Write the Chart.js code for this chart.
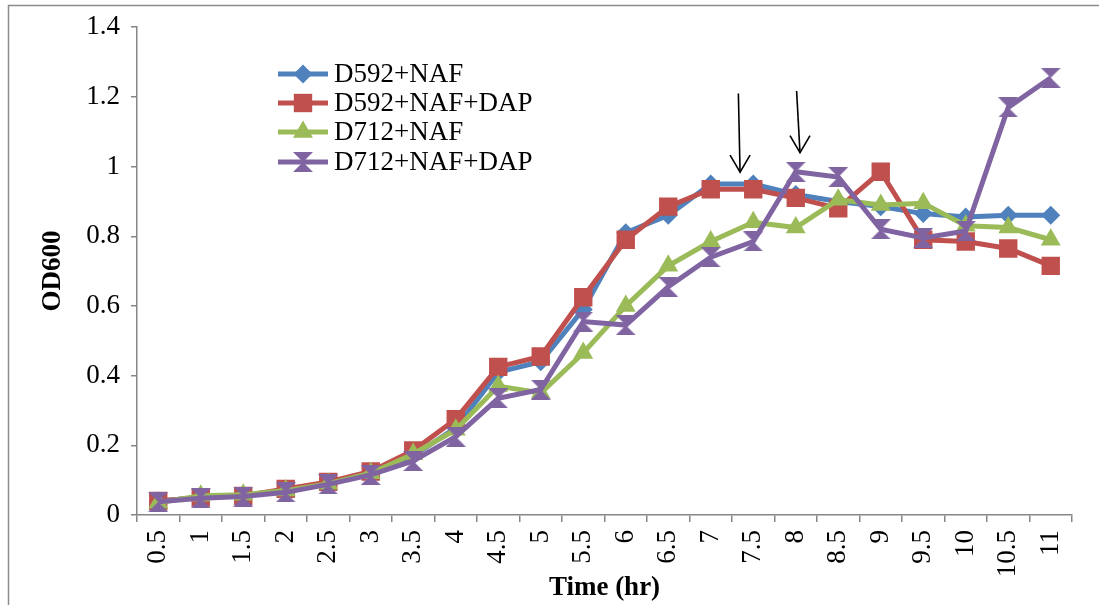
<!DOCTYPE html>
<html>
<head>
<meta charset="utf-8">
<script src="https://cdn.jsdelivr.net/npm/chart.js@4.4.1/dist/chart.umd.min.js"></script>
<style>
  html, body { margin: 0; padding: 0; background: #fff; }
  #wrap { width: 1099px; height: 605px; position: relative; }
</style>
</head>
<body>
<div id="wrap"><canvas id="growth"></canvas></div>
<script>
// time points (hr)
const timeLabels = ['0.5','1','1.5','2','2.5','3','3.5','4','4.5','5','5.5','6','6.5','7','7.5','8','8.5','9','9.5','10','10.5','11']
const yTickLabels = ['0','0.2','0.4','0.6','0.8','1','1.2','1.4']

const d592Naf    = [0.04, 0.05, 0.055, 0.07, 0.09, 0.12, 0.17, 0.25, 0.41, 0.44, 0.59, 0.81, 0.86, 0.95, 0.95, 0.92, 0.90, 0.885, 0.865, 0.855, 0.86, 0.86]
const d592NafDap = [0.04, 0.05, 0.055, 0.075, 0.095, 0.125, 0.185, 0.275, 0.425, 0.455, 0.625, 0.79, 0.885, 0.935, 0.935, 0.91, 0.88, 0.985, 0.79, 0.785, 0.765, 0.715]
const d712Naf    = [0.035, 0.055, 0.058, 0.07, 0.09, 0.12, 0.175, 0.245, 0.37, 0.35, 0.465, 0.60, 0.715, 0.785, 0.84, 0.825, 0.905, 0.89, 0.895, 0.83, 0.825, 0.79]
const d712NafDap = [0.038, 0.048, 0.053, 0.065, 0.088, 0.115, 0.155, 0.225, 0.335, 0.36, 0.555, 0.545, 0.655, 0.74, 0.785, 0.985, 0.97, 0.82, 0.795, 0.815, 1.17, 1.255]

// arrows: [category index, OD] for tail and head
const arrowTails = [[13.65, 1.21], [15.02, 1.217]]
const arrowHeads = [[13.69, 0.984], [15.10, 1.04]]

const FONT = "'Liberation Serif', 'Times New Roman', serif"
const axisGray = '#868686'

function hourglass(size, color) {
    const c = document.createElement('canvas')
    c.width = size; c.height = size
    const g = c.getContext('2d')
    g.fillStyle = color
    g.beginPath()
    g.moveTo(0, 0); g.lineTo(size, 0); g.lineTo(size / 2, size / 2)
    g.lineTo(size, size); g.lineTo(0, size); g.lineTo(size / 2, size / 2)
    g.closePath()
    g.fill()
    return c
}
const purpleMark = hourglass(20, '#8064A2')

function series(label, data, color, style, radius, order) {
    return {label: label, data: data, borderColor: color, backgroundColor: color,
            borderWidth: 5, pointStyle: style, pointRadius: radius, pointHoverRadius: radius,
            pointBorderWidth: 0, tension: 0, order: order}
}

const legendPlugin = {
    id: 'insideLegend',
    afterDraw(chart) {
        const ctx = chart.ctx
        const rows = [74, 103, 132, 162]
        ctx.save()
        // outer frame
        ctx.strokeStyle = '#8c8c8c'
        ctx.lineWidth = 1.5
        ctx.strokeRect(8.5, 5.5, 1300, 800)
        chart.data.datasets.forEach((ds, i) => {
            const y = rows[i]
            ctx.strokeStyle = ds.borderColor
            ctx.lineWidth = 5
            ctx.beginPath(); ctx.moveTo(278, y); ctx.lineTo(328, y); ctx.stroke()
            ctx.fillStyle = ds.backgroundColor
            Chart.helpers.drawPoint(ctx, {pointStyle: ds.pointStyle, radius: ds.pointRadius, rotation: 0, borderWidth: 0}, 303, y)
            ctx.fillStyle = '#000'
            ctx.font = '27px ' + FONT
            ctx.textBaseline = 'middle'
            ctx.textAlign = 'left'
            ctx.fillText(ds.label, 334, y + 1)
        })
        ctx.restore()
    },
    afterDatasetsDraw(chart) {
        const ctx = chart.ctx
        const xs = chart.scales.x, ys = chart.scales.y
        ctx.save()
        ctx.strokeStyle = '#000'
        ctx.lineWidth = 1.6
        arrowTails.forEach((t, i) => {
            const x0 = xs.getPixelForValue(t[0]), y0 = ys.getPixelForValue(t[1])
            const x1 = xs.getPixelForValue(arrowHeads[i][0]), y1 = ys.getPixelForValue(arrowHeads[i][1])
            ctx.beginPath(); ctx.moveTo(x0, y0); ctx.lineTo(x1, y1); ctx.stroke()
            ctx.beginPath()
            ctx.moveTo(x1 - 10, y1 - 17); ctx.lineTo(x1, y1); ctx.lineTo(x1 + 10, y1 - 17)
            ctx.stroke()
        })
        ctx.restore()
    }
}

const ctx = document.getElementById('growth').getContext('2d')
const chart = new Chart(ctx, {
    type: 'line',
    data: {
        labels: timeLabels,
        datasets: [
            series('D592+NAF', d592Naf, '#4F81BD', 'rectRot', 9.5, 4),
            series('D592+NAF+DAP', d592NafDap, '#C0504D', 'rect', 13, 3),
            series('D712+NAF', d712Naf, '#9BBB59', 'triangle', 11.5, 2),
            series('D712+NAF+DAP', d712NafDap, '#8064A2', purpleMark, 10, 1)
        ]
    },
    options: {
        responsive: true,
        maintainAspectRatio: false,
        animation: false,
        layout: {padding: {left: 33, right: 27, top: 27, bottom: 0}},
        plugins: {legend: {display: false}, tooltip: {enabled: false}},
        scales: {
            x: {
                offset: true,
                grid: {offset: true, drawOnChartArea: false, color: axisGray, tickLength: 7, lineWidth: 1.5},
                border: {color: axisGray, width: 1.5},
                ticks: {autoSkip: false, maxRotation: 90, minRotation: 90, padding: 8, color: '#000',
                        font: {family: FONT, size: 27}},
                title: {display: true, text: 'Time (hr)', color: '#000', padding: {top: 0, bottom: 1},
                        font: {family: FONT, size: 27, weight: 'bold'}},
                afterFit: (s) => { s.height = 90 }
            },
            y: {
                min: 0, max: 1.4,
                grid: {drawOnChartArea: false, color: axisGray, tickLength: 6, lineWidth: 1.5},
                border: {color: axisGray, width: 1.5},
                ticks: {stepSize: 0.2, padding: 11, color: '#000', font: {family: FONT, size: 27},
                        callback: (v, i) => yTickLabels[i]},
                title: {display: true, text: 'OD600', color: '#000', padding: {top: 4, bottom: 0},
                        font: {family: FONT, size: 27, weight: 'bold'}},
                afterFit: (s) => { s.width = 104 }
            }
        }
    },
    plugins: [legendPlugin]
})
</script>
</body>
</html>
